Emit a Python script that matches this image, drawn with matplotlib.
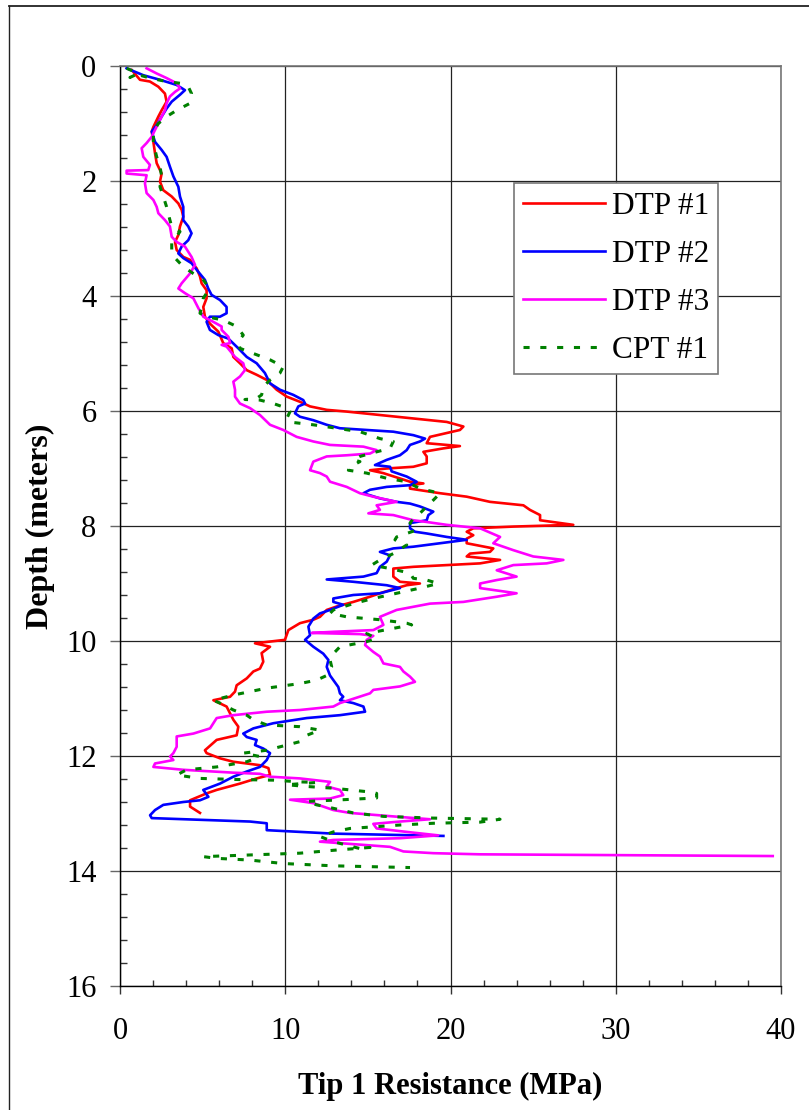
import matplotlib
matplotlib.use("Agg")
import matplotlib.pyplot as plt
from matplotlib.ticker import MultipleLocator
from matplotlib.lines import Line2D

plt.rcParams['font.family'] = ['Liberation Serif', 'DejaVu Serif']

dtp1 = [(0.71, 0.07), (1.21, 0.24), (1.81, 0.27), (2.32, 0.36), (2.72, 0.48), (2.82, 0.62), (2.52, 0.77),
        (2.32, 0.88), (2.02, 1.06), (1.92, 1.14), (2.02, 1.32), (2.12, 1.52), (2.22, 1.69), (2.52, 1.87),
        (2.42, 2.01), (2.62, 2.16), (3.13, 2.27), (3.53, 2.39), (3.73, 2.50), (3.83, 2.62), (3.63, 2.79),
        (3.53, 2.94), (3.33, 3.06), (3.43, 3.20), (3.83, 3.32), (4.23, 3.37), (4.64, 3.52), (4.84, 3.66),
        (4.94, 3.78), (5.24, 3.90), (5.24, 4.04), (5.04, 4.19), (5.14, 4.36), (5.44, 4.48), (5.95, 4.62),
        (6.25, 4.82), (6.76, 4.91), (6.86, 5.06), (7.26, 5.17), (7.67, 5.29), (8.27, 5.37), (8.88, 5.46),
        (9.48, 5.63), (10.09, 5.75), (10.89, 5.84), (11.50, 5.92), (12.51, 5.98), (13.72, 6.01), (15.73, 6.07),
        (17.75, 6.13), (19.77, 6.19), (20.78, 6.27), (20.57, 6.33), (18.76, 6.45), (18.56, 6.56), (20.57, 6.61),
        (19.57, 6.65), (18.36, 6.71), (18.56, 6.79), (18.56, 6.91), (17.75, 6.97), (16.14, 7.00), (15.13, 7.03),
        (15.93, 7.08), (17.55, 7.23), (18.36, 7.26), (17.55, 7.29), (17.55, 7.35), (19.37, 7.43), (20.98, 7.49),
        (22.39, 7.58), (24.41, 7.64), (24.81, 7.72), (25.42, 7.81), (25.42, 7.90), (27.43, 7.98), (23.80, 8.01),
        (21.38, 8.04), (20.98, 8.10), (21.38, 8.16), (20.98, 8.22), (20.98, 8.30), (22.59, 8.39), (22.39, 8.45),
        (21.18, 8.48), (20.98, 8.53), (23.00, 8.59), (21.79, 8.65), (19.77, 8.68), (17.75, 8.71), (16.54, 8.74),
        (16.54, 8.88), (16.94, 8.97), (18.15, 9.00), (17.35, 9.03), (16.74, 9.08), (15.73, 9.17), (15.13, 9.23),
        (14.12, 9.32), (13.11, 9.40), (12.51, 9.46), (12.10, 9.58), (11.70, 9.63), (10.89, 9.69), (10.19, 9.81),
        (9.98, 9.98), (8.17, 10.04), (9.08, 10.10), (8.57, 10.21), (8.67, 10.36), (8.47, 10.48), (8.07, 10.53),
        (7.67, 10.65), (7.06, 10.77), (6.96, 10.88), (6.66, 10.97), (5.65, 11.03), (6.45, 11.14), (6.66, 11.26),
        (6.86, 11.37), (7.16, 11.49), (7.06, 11.64), (5.85, 11.72), (5.14, 11.90), (5.24, 11.95), (6.05, 12.04),
        (6.86, 12.10), (8.47, 12.16), (8.98, 12.21), (9.08, 12.33), (8.27, 12.39), (7.26, 12.48), (5.85, 12.59),
        (5.24, 12.65), (4.24, 12.77), (4.24, 12.88), (4.84, 12.99)]

dtp2 = [(0.40, 0.04), (1.41, 0.16), (2.42, 0.24), (3.43, 0.33), (3.93, 0.42), (3.63, 0.50), (3.13, 0.62),
        (2.82, 0.74), (2.52, 0.88), (2.22, 1.03), (1.92, 1.14), (2.12, 1.32), (2.52, 1.46), (2.82, 1.58),
        (3.02, 1.75), (3.23, 1.92), (3.53, 2.10), (3.63, 2.27), (3.83, 2.45), (3.83, 2.68), (4.13, 2.79),
        (4.33, 2.91), (4.13, 3.03), (3.73, 3.14), (3.53, 3.26), (3.83, 3.34), (4.33, 3.43), (4.74, 3.58),
        (5.14, 3.72), (5.34, 3.87), (5.54, 3.98), (6.05, 4.07), (6.45, 4.19), (6.45, 4.30), (6.05, 4.36),
        (5.44, 4.36), (5.24, 4.45), (5.44, 4.59), (5.95, 4.68), (6.55, 4.74), (7.16, 4.91), (7.67, 5.06),
        (8.27, 5.17), (8.77, 5.34), (9.08, 5.52), (9.68, 5.63), (10.49, 5.72), (11.09, 5.81), (11.20, 5.87),
        (10.79, 5.92), (10.59, 6.04), (10.89, 6.10), (11.70, 6.16), (12.51, 6.24), (13.31, 6.30), (14.93, 6.33),
        (16.54, 6.36), (17.75, 6.42), (18.46, 6.48), (18.15, 6.53), (17.55, 6.59), (17.35, 6.68), (16.94, 6.77),
        (16.14, 6.85), (15.43, 6.94), (16.34, 6.97), (16.44, 7.05), (17.35, 7.14), (17.95, 7.23), (17.55, 7.29),
        (16.14, 7.32), (15.13, 7.37), (14.73, 7.43), (15.73, 7.52), (16.74, 7.58), (17.55, 7.61), (18.15, 7.66),
        (18.96, 7.75), (18.66, 7.81), (18.56, 7.90), (17.55, 7.95), (17.55, 8.04), (17.85, 8.10), (18.56, 8.13),
        (19.77, 8.19), (20.98, 8.24), (19.37, 8.30), (17.75, 8.36), (16.54, 8.39), (15.73, 8.45), (16.34, 8.51),
        (16.14, 8.62), (15.73, 8.71), (15.53, 8.82), (14.73, 8.88), (12.51, 8.93), (14.12, 8.97), (16.14, 9.03),
        (16.94, 9.08), (15.73, 9.17), (14.12, 9.20), (12.91, 9.26), (12.91, 9.32), (13.51, 9.37), (12.71, 9.46),
        (12.10, 9.52), (11.70, 9.61), (11.40, 9.75), (11.50, 9.90), (11.20, 9.98), (11.70, 10.10), (12.30, 10.22),
        (12.61, 10.33), (12.51, 10.45), (12.71, 10.60), (12.91, 10.68), (13.21, 10.80), (13.31, 10.91),
        (13.51, 10.97), (13.31, 11.03), (14.12, 11.08), (14.73, 11.14), (14.83, 11.23), (13.31, 11.29),
        (11.30, 11.34), (9.28, 11.43), (8.07, 11.52), (7.46, 11.61), (7.67, 11.67), (8.27, 11.72), (8.17, 11.81),
        (8.67, 11.87), (9.08, 11.95), (8.88, 12.07), (8.47, 12.19), (7.67, 12.27), (6.86, 12.36), (6.05, 12.48),
        (5.04, 12.59), (5.35, 12.71), (4.84, 12.77), (3.83, 12.80), (2.62, 12.85), (2.12, 12.94), (1.82, 13.03),
        (1.92, 13.08), (4.84, 13.11), (7.87, 13.14), (8.88, 13.17), (8.88, 13.29), (12.91, 13.35), (19.57, 13.39)]

dtp3 = [(1.61, 0.04), (2.22, 0.13), (2.82, 0.21), (3.43, 0.30), (3.63, 0.39), (3.33, 0.45), (3.02, 0.53),
        (2.82, 0.65), (2.72, 0.77), (2.52, 0.88), (2.32, 1.00), (2.12, 1.11), (1.92, 1.23), (1.61, 1.34),
        (1.31, 1.43), (1.41, 1.58), (1.81, 1.72), (1.71, 1.81), (0.40, 1.82), (0.40, 1.87), (1.61, 1.90),
        (1.51, 2.04), (1.61, 2.21), (2.02, 2.33), (2.22, 2.45), (2.32, 2.56), (2.72, 2.68), (3.02, 2.79),
        (3.13, 2.97), (3.43, 3.06), (3.93, 3.14), (4.33, 3.32), (4.54, 3.46), (4.23, 3.61), (3.73, 3.78),
        (3.53, 3.87), (3.93, 3.95), (4.44, 4.04), (4.74, 4.21), (5.04, 4.36), (5.65, 4.45), (6.15, 4.53),
        (6.15, 4.59), (6.56, 4.71), (6.66, 4.82), (6.15, 4.85), (6.45, 4.88), (6.96, 5.06), (7.46, 5.17),
        (7.56, 5.29), (7.26, 5.40), (6.86, 5.49), (6.96, 5.63), (6.96, 5.75), (7.26, 5.87), (7.87, 5.95),
        (8.47, 6.07), (9.08, 6.24), (9.88, 6.33), (10.69, 6.45), (11.70, 6.53), (12.71, 6.59), (14.73, 6.62),
        (15.53, 6.68), (15.13, 6.74), (13.72, 6.77), (12.51, 6.79), (11.70, 6.88), (11.50, 7.03), (12.10, 7.08),
        (12.51, 7.14), (12.71, 7.23), (13.72, 7.32), (14.52, 7.43), (15.33, 7.49), (16.74, 7.58), (15.53, 7.64),
        (15.73, 7.72), (15.03, 7.78), (16.54, 7.81), (17.75, 7.90), (18.56, 7.93), (19.77, 7.98), (21.79, 8.04),
        (23.00, 8.19), (22.59, 8.30), (23.80, 8.42), (25.01, 8.53), (26.83, 8.59), (25.82, 8.65), (23.80, 8.68),
        (22.80, 8.77), (24.00, 8.88), (22.80, 8.94), (21.79, 9.00), (21.79, 9.08), (24.00, 9.17), (22.80, 9.23),
        (20.78, 9.32), (18.76, 9.35), (16.74, 9.46), (15.73, 9.58), (15.94, 9.72), (15.33, 9.81), (12.91, 9.84),
        (11.60, 9.86), (14.52, 9.88), (15.33, 9.91), (14.93, 9.98), (14.83, 10.07), (15.33, 10.19), (15.73, 10.27),
        (15.94, 10.39), (16.94, 10.45), (17.15, 10.53), (17.55, 10.62), (17.85, 10.71), (16.94, 10.79),
        (15.33, 10.85), (15.13, 10.91), (13.31, 11.08), (12.91, 11.14), (10.89, 11.20), (8.88, 11.23),
        (6.86, 11.29), (5.85, 11.34), (5.45, 11.52), (4.44, 11.61), (3.43, 11.66), (3.43, 11.84), (3.23, 11.95),
        (3.03, 12.01), (3.23, 12.07), (2.12, 12.13), (2.02, 12.19), (3.83, 12.24), (6.86, 12.29), (8.47, 12.31),
        (9.08, 12.36), (10.89, 12.39), (12.71, 12.45), (12.51, 12.53), (13.31, 12.59), (13.51, 12.68),
        (12.71, 12.74), (10.29, 12.76), (11.70, 12.82), (12.91, 12.94), (13.92, 12.99), (16.94, 13.06),
        (18.76, 13.10), (16.94, 13.14), (15.33, 13.18), (15.53, 13.26), (17.35, 13.32), (19.25, 13.38),
        (16.94, 13.43), (12.91, 13.46), (12.10, 13.49), (16.34, 13.58), (17.15, 13.66), (18.96, 13.69),
        (21.79, 13.71), (39.50, 13.74)]

cpt1 = [(0.40, 0.04), (1.11, 0.13), (0.60, 0.20), (1.21, 0.16), (1.81, 0.21), (2.82, 0.27), (3.63, 0.30),
        (4.13, 0.36), (4.33, 0.48), (4.23, 0.65), (3.83, 0.71), (3.43, 0.77), (2.82, 0.88), (2.32, 1.00),
        (2.02, 1.14), (2.02, 1.34), (2.22, 1.58), (2.42, 1.75), (2.52, 1.92), (2.42, 2.10), (2.62, 2.27),
        (2.82, 2.45), (3.02, 2.68), (3.13, 2.79), (3.63, 2.88), (3.33, 3.00), (3.13, 3.08), (3.13, 3.20),
        (3.33, 3.34), (3.83, 3.49), (4.44, 3.61), (5.04, 3.72), (5.34, 3.84), (5.24, 3.95), (5.04, 4.04),
        (4.94, 4.19), (4.84, 4.30), (5.24, 4.36), (6.25, 4.42), (7.06, 4.53), (7.46, 4.68), (7.16, 4.79),
        (7.26, 4.91), (8.07, 5.00), (9.08, 5.11), (9.88, 5.23), (9.68, 5.34), (9.08, 5.46), (8.67, 5.58),
        (8.57, 5.72), (8.27, 5.78), (7.56, 5.80), (8.47, 5.81), (9.28, 5.87), (10.09, 5.95), (10.29, 6.01),
        (10.09, 6.13), (10.49, 6.20), (11.70, 6.24), (13.11, 6.30), (14.52, 6.36), (15.73, 6.48), (16.54, 6.53),
        (16.34, 6.65), (15.53, 6.71), (14.52, 6.79), (14.12, 6.85), (14.52, 6.88), (13.92, 6.97), (13.82, 7.03),
        (14.93, 7.08), (16.14, 7.17), (17.35, 7.23), (18.15, 7.35), (19.37, 7.43), (18.96, 7.55), (18.56, 7.66),
        (18.15, 7.78), (17.75, 7.87), (17.55, 7.95), (17.95, 8.07), (17.35, 8.13), (16.74, 8.19), (16.64, 8.24),
        (17.35, 8.33), (16.54, 8.48), (15.73, 8.59), (15.23, 8.68), (16.34, 8.74), (17.55, 8.82), (17.75, 8.91),
        (18.56, 8.94), (19.26, 9.00), (18.15, 9.08), (16.74, 9.17), (15.33, 9.26), (14.12, 9.35), (12.91, 9.46),
        (12.71, 9.52), (13.72, 9.58), (15.73, 9.63), (17.35, 9.69), (17.65, 9.72), (16.54, 9.78), (14.93, 9.87),
        (15.53, 9.96), (14.93, 10.01), (13.31, 10.10), (12.91, 10.22), (12.71, 10.33), (12.81, 10.45),
        (12.51, 10.60), (11.90, 10.68), (10.89, 10.74), (8.88, 10.82), (6.86, 10.94), (5.65, 11.03),
        (6.05, 11.08), (6.86, 11.20), (7.67, 11.29), (8.07, 11.37), (8.88, 11.46), (10.89, 11.49), (12.10, 11.55),
        (11.30, 11.64), (10.89, 11.75), (10.09, 11.81), (8.88, 11.90), (7.46, 11.95), (8.47, 12.01), (7.67, 12.10),
        (5.85, 12.19), (4.03, 12.24), (3.43, 12.33), (4.84, 12.39), (7.26, 12.41), (9.28, 12.42), (10.89, 12.45),
        (11.90, 12.46), (10.09, 12.50), (11.30, 12.53), (12.91, 12.56), (14.93, 12.62), (15.53, 12.65),
        (15.53, 12.73), (13.51, 12.76), (11.30, 12.79), (11.90, 12.85), (12.91, 12.91), (14.12, 12.99),
        (15.94, 13.05), (18.96, 13.08), (23.00, 13.10), (21.79, 13.15), (18.96, 13.17), (16.94, 13.20),
        (13.92, 13.26), (12.91, 13.32), (12.10, 13.40), (12.91, 13.49), (14.52, 13.61), (15.13, 13.59),
        (12.91, 13.64), (10.89, 13.69), (7.87, 13.72), (5.04, 13.75), (5.85, 13.78), (7.87, 13.81),
        (9.88, 13.87), (12.91, 13.91), (17.55, 13.94)]

labels = ['DTP #1', 'DTP #2', 'DTP #3', 'CPT #1']
colors = ['#FF0000', '#0000FF', '#FF00FF', '#008000']

fig = plt.figure(figsize=(8.09, 11.10), dpi=100)
ax = fig.add_axes([120 / 809, 1 - 986 / 1110, 661 / 809, 920 / 1110])

for data, lab, col in zip([dtp1, dtp2, dtp3], labels[:3], colors[:3]):
    q, d = zip(*data)
    ax.plot(q, d, color=col, lw=1.9, label=lab)
q, d = zip(*cpt1)
ax.plot(q, d, color=colors[3], lw=2.2, linestyle=(0, (2.0, 3.5)), label=labels[3])

ax.set_xlim(0, 40)
ax.set_ylim(16, 0)
ax.xaxis.set_major_locator(MultipleLocator(10))
ax.xaxis.set_minor_locator(MultipleLocator(2))
ax.yaxis.set_major_locator(MultipleLocator(2))
ax.yaxis.set_minor_locator(MultipleLocator(0.4))
ax.grid(True, which='major', color='#222222', lw=0.9)
ax.set_axisbelow(True)

ax.tick_params(axis='y', which='major', direction='out', length=7, width=1, color='#666666',
               labelsize=22, pad=10)
ax.tick_params(axis='y', which='minor', direction='in', length=5, width=1, color='#333333')
ax.tick_params(axis='x', which='major', direction='out', length=6, width=1, color='#333333',
               labelsize=22, pad=16)
ax.tick_params(axis='x', which='minor', direction='in', length=4.5, width=1, color='#333333')

for s in ['left', 'bottom']:
    ax.spines[s].set_color('black')
    ax.spines[s].set_linewidth(1.0)
for s in ['top', 'right']:
    ax.spines[s].set_color('#777777')
    ax.spines[s].set_linewidth(1.2)

ax.set_xlabel('Tip 1 Resistance (MPa)', fontsize=22, fontweight='bold', labelpad=19)
ax.set_ylabel('Depth (meters)', fontsize=23, fontweight='bold', labelpad=8)

leg = ax.legend(loc='upper left', bbox_to_anchor=(514 / 809, 1 - 183 / 1110),
                bbox_transform=fig.transFigure, fontsize=22.5, frameon=True, fancybox=False,
                edgecolor='#777777', framealpha=1, handlelength=2.6, handletextpad=0.22,
                labelspacing=0.6, borderpad=0.3, borderaxespad=0)
leg.get_frame().set_linewidth(1.2)

# outer border of the picture
fig.add_artist(Line2D([9 / 809, 1], [1 - 6 / 1110, 1 - 6 / 1110], color='#222222', lw=1.3))
fig.add_artist(Line2D([9 / 809, 9 / 809], [1 - 6 / 1110, 0], color='#222222', lw=1.0))

fig.savefig('out.png', dpi=100)
